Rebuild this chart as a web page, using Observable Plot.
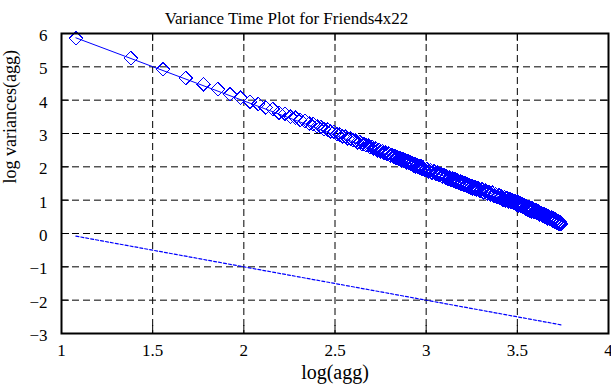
<!DOCTYPE html>
<html>
<head>
<meta charset="utf-8">
<script src="https://cdn.jsdelivr.net/npm/d3@7"></script>
<script src="https://cdn.jsdelivr.net/npm/@observablehq/plot@0.6"></script>
<style>
  html, body { margin: 0; padding: 0; background: #fff; }
  #chart svg { display: block; }
  #chart svg text { font-family: 'Liberation Serif', 'Times New Roman', serif !important; font-variant-numeric: normal !important; }
</style>
</head>
<body>
<div id="chart"></div>
<script>
const titleText = "Variance Time Plot for Friends4x22";
const xLabel = "log(agg)";
const yLabel = "log variances(agg)";
const xTicks = [1, 1.5, 2, 2.5, 3, 3.5, 4];
const yTicks = [-3, -2, -1, 0, 1, 2, 3, 4, 5, 6];

// aggregation levels and measured log10 variances
const aggLevels = [
  12,24,36,48,60,72,84,96,108,120,132,144,156,168,180,192,204,216,228,240,
  252,264,276,288,300,312,324,336,348,360,372,384,396,408,420,432,444,456,468,480,
  492,504,516,528,540,552,564,576,588,600,612,624,636,648,660,672,684,696,708,720,
  732,744,756,768,780,792,804,816,828,840,852,864,876,888,900,912,924,936,948,960,
  984,1008,1032,1056,1080,1104,1128,1152,1176,1200,1224,1248,1272,1296,1320,1344,1368,1392,1416,1440,
  1464,1488,1512,1536,1560,1584,1608,1632,1656,1680,1704,1728,1752,1776,1800,1824,1848,1872,1896,1920,
  1968,2016,2064,2112,2160,2208,2256,2304,2352,2400,2448,2496,2544,2592,2640,2688,2736,2784,2832,2880,
  2928,2976,3024,3072,3120,3168,3216,3264,3312,3360,3408,3456,3504,3552,3600,3648,3696,3744,3792,3840,
  3912,3984,4056,4128,4200,4272,4344,4416,4488,4560,4632,4704,4776,4848,4920,4992,5064,5136,5208,5280,
  5352,5424,5496];
const logVariance = [
  5.86,5.26,4.93,4.66,4.48,4.33,4.18,4.07,3.95,3.89,3.78,3.73,3.62,3.59,3.50,3.47,3.40,3.38,3.30,3.28,
  3.21,3.19,3.13,3.12,3.06,3.05,2.98,2.97,2.91,2.91,2.85,2.85,2.80,2.79,2.74,2.74,2.69,2.68,2.64,2.64,
  2.59,2.60,2.55,2.55,2.50,2.51,2.46,2.47,2.42,2.43,2.38,2.40,2.34,2.35,2.31,2.32,2.27,2.29,2.24,2.26,
  2.20,2.23,2.17,2.19,2.14,2.17,2.11,2.14,2.08,2.11,2.05,2.08,2.02,2.06,2.00,2.03,1.97,2.01,1.95,1.98,
  1.91,1.94,1.87,1.90,1.82,1.86,1.79,1.82,1.75,1.78,1.71,1.75,1.68,1.71,1.64,1.68,1.61,1.65,1.58,1.62,
  1.55,1.59,1.52,1.56,1.49,1.53,1.46,1.50,1.44,1.47,1.41,1.45,1.38,1.42,1.36,1.40,1.34,1.38,1.32,1.36,
  1.28,1.33,1.24,1.29,1.20,1.25,1.16,1.22,1.13,1.18,1.09,1.15,1.06,1.12,1.02,1.09,0.99,1.06,0.96,1.03,
  0.94,1.00,0.91,0.97,0.88,0.95,0.85,0.92,0.82,0.88,0.79,0.85,0.76,0.82,0.73,0.79,0.70,0.76,0.67,0.74,
  0.65,0.70,0.61,0.66,0.57,0.62,0.53,0.58,0.50,0.55,0.46,0.51,0.43,0.48,0.39,0.44,0.36,0.41,0.33,0.38,
  0.30,0.34,0.29];

// fitted line and slope -1 reference line (endpoints)
const fitX = [1.079, 3.742];
const fitY = [5.87, 0.40];
const refX = [1.079, 3.742];
const refY = [-0.079, -2.742];

const points = aggLevels.map((a, i) => ({x: Math.log10(a), y: logVariance[i]}));
const sparse = points.filter(p => p.x < 2.85);
const dense = points.filter(p => p.x >= 2.85);
const fit = fitX.map((x, i) => ({x, y: fitY[i]}));
const ref = refX.map((x, i) => ({x, y: refY[i]}));

const fmt = d => d < 0 ? "\u2212" + (-d) : String(d);
const blue = "#0000ff";

const plot = Plot.plot({
  width: 611,
  height: 388,
  marginLeft: 61,
  marginRight: 3,
  marginTop: 33,
  marginBottom: 55,
  style: {fontSize: "17px", color: "black", background: "white"},
  x: {domain: [1, 4], ticks: xTicks},
  y: {domain: [-3, 6], ticks: yTicks},
  marks: [
    Plot.gridX(xTicks, {stroke: "black", strokeOpacity: 1, strokeWidth: 1, strokeDasharray: "7,4"}),
    Plot.gridY(yTicks, {stroke: "black", strokeOpacity: 1, strokeWidth: 1, strokeDasharray: "7,4"}),
    Plot.ruleY(yTicks, {stroke: "black", insetRight: 539}),
    Plot.ruleY(yTicks, {stroke: "black", insetLeft: 539}),
    Plot.ruleX(xTicks, {stroke: "black", insetTop: 292}),
    Plot.ruleX(xTicks, {stroke: "black", insetBottom: 292}),
    Plot.axisX(xTicks, {tickSize: 0, tickPadding: 10, tickFormat: fmt, label: null, fontSize: 17}),
    Plot.axisY(yTicks, {tickSize: 0, tickPadding: 14, tickFormat: fmt, label: null, fontSize: 17, dy: 2}),
    Plot.line(ref, {x: "x", y: "y", stroke: blue, strokeWidth: 1.2, strokeDasharray: "3,2"}),
    Plot.line(fit, {x: "x", y: "y", stroke: blue, strokeWidth: 1}),
    Plot.dot(sparse, {x: "x", y: "y", symbol: "diamond2", r: 6.1, stroke: blue, strokeWidth: 1, fill: "none", shapeRendering: "crispEdges"}),
    Plot.dot(dense, {x: "x", y: "y", symbol: "diamond2", r: 6.0, stroke: blue, strokeWidth: 1.3, fill: "none", shapeRendering: "crispEdges"}),
    Plot.frame({stroke: "black", strokeWidth: 2}),
    Plot.text([titleText], {frameAnchor: "top-left", dx: 225, dy: -22, text: d => d, fontSize: 17, textAnchor: "middle"}),
    Plot.text([xLabel], {frameAnchor: "bottom", dy: 45, text: d => d, fontSize: 20}),
    Plot.text([yLabel], {frameAnchor: "left", dx: -51, rotate: -90, text: d => d, fontSize: 18})
  ]
});
document.getElementById("chart").appendChild(plot);
</script>
</body>
</html>
